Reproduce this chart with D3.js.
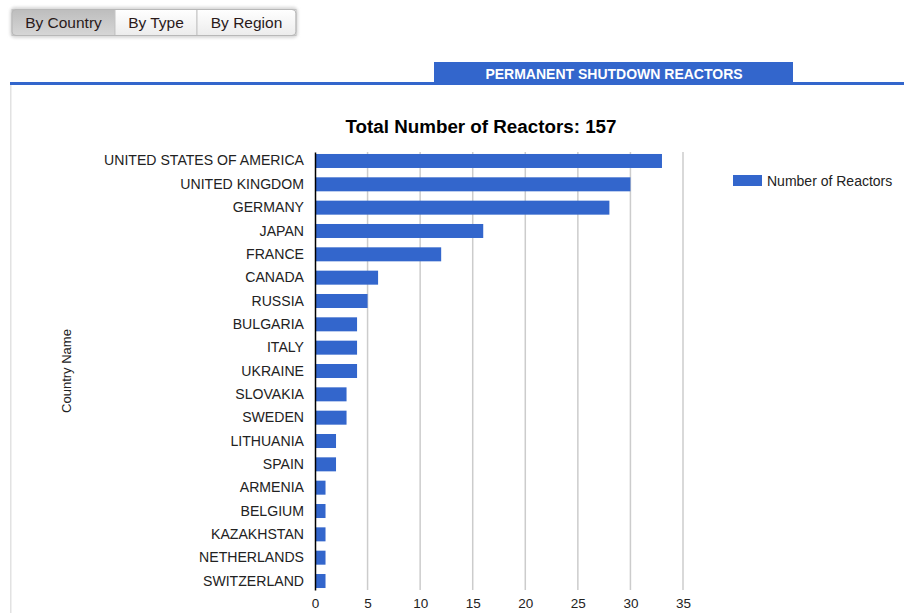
<!DOCTYPE html>
<html><head><meta charset="utf-8">
<script src="https://cdn.jsdelivr.net/npm/d3@7/dist/d3.min.js"></script>
<style>
html,body{margin:0;padding:0;background:#fff;}
svg{display:block;font-family:"Liberation Sans",Arial,sans-serif;}
</style></head>
<body>
<svg id="c" width="904" height="613"></svg>
<script>
const countries = ["UNITED STATES OF AMERICA","UNITED KINGDOM","GERMANY","JAPAN","FRANCE","CANADA","RUSSIA","BULGARIA","ITALY","UKRAINE","SLOVAKIA","SWEDEN","LITHUANIA","SPAIN","ARMENIA","BELGIUM","KAZAKHSTAN","NETHERLANDS","SWITZERLAND"];
const reactors = [33,30,28,16,12,6,5,4,4,4,3,3,2,2,1,1,1,1,1];
const xTicks = [0,5,10,15,20,25,30,35];
const buttons = ["By Country","By Type","By Region"];
const seriesName = "Number of Reactors";
const tabTitle = "PERMANENT SHUTDOWN REACTORS";
const total = d3.sum(reactors);

const svg = d3.select("#c");
const blue = "#3366cc";

// buttons
const defs = svg.append("defs");
const g1 = defs.append("linearGradient").attr("id","btnOn").attr("x1",0).attr("y1",0).attr("x2",0).attr("y2",1);
g1.append("stop").attr("offset","0").attr("stop-color","#bdbdbd");
g1.append("stop").attr("offset","1").attr("stop-color","#d6d6d6");
const g2 = defs.append("linearGradient").attr("id","btnOff").attr("x1",0).attr("y1",0).attr("x2",0).attr("y2",1);
g2.append("stop").attr("offset","0").attr("stop-color","#ffffff");
g2.append("stop").attr("offset","1").attr("stop-color","#ececec");
const f = defs.append("filter").attr("id","sh").attr("x","-10%").attr("y","-30%").attr("width","120%").attr("height","160%");
f.append("feGaussianBlur").attr("stdDeviation",1.5);

const btnX = [12,115,197,296];
svg.append("rect").attr("x",10).attr("y",7).attr("width",288).attr("height",31).attr("rx",5).attr("fill","#d8d8d8").attr("filter","url(#sh)");
const bg = svg.append("g");
buttons.forEach((b,i)=>{
  bg.append("rect").attr("x",btnX[i]).attr("y",9.5).attr("width",btnX[i+1]-btnX[i]).attr("height",26)
    .attr("rx", 0).attr("fill", i===0?"url(#btnOn)":"url(#btnOff)").attr("stroke","#c4c4c4");
  bg.append("text").attr("x",(btnX[i]+btnX[i+1])/2).attr("y",27.5).attr("text-anchor","middle")
    .attr("font-size",15.5).attr("fill","#2a1a1a").text(b);
});
svg.append("rect").attr("x",12).attr("y",9.5).attr("width",284).attr("height",26).attr("rx",4)
  .attr("fill","none").attr("stroke","#b8b8b8");

// tab header
svg.append("rect").attr("x",434).attr("y",62).attr("width",359).attr("height",21).attr("fill",blue);
svg.append("text").attr("x",614).attr("y",78.5).attr("text-anchor","middle").attr("font-size",14)
  .attr("font-weight","bold").attr("fill","#fff").text(tabTitle);
svg.append("rect").attr("x",10).attr("y",82).attr("width",894).attr("height",3).attr("fill",blue);
svg.append("rect").attr("x",10).attr("y",85).attr("width",1.5).attr("height",528).attr("fill","#e2e2e2");

// title
svg.append("text").attr("x",481).attr("y",132.5).attr("text-anchor","middle").attr("font-size",18.8)
  .attr("font-weight","bold").attr("fill","#000").text("Total Number of Reactors: " + total);

// scales
const x = d3.scaleLinear().domain([0,35]).range([315,683]);
const y = d3.scaleBand().domain(countries).range([152,590]).paddingInner(0.4).paddingOuter(0.085);

// grid
svg.append("g").selectAll("line").data(xTicks.filter(t=>t>0)).join("line")
  .attr("x1",d=>x(d)).attr("x2",d=>x(d)).attr("y1",152).attr("y2",590)
  .attr("stroke","#cccccc").attr("stroke-width",1.5);

// bars
svg.append("g").selectAll("rect").data(countries).join("rect")
  .attr("x",x(0)).attr("y",(d)=>y(d)).attr("height",y.bandwidth())
  .attr("width",(d,i)=>x(reactors[i])-x(0)).attr("fill",blue);

// y axis
const ya = svg.append("g").attr("transform",`translate(${x(0)},0)`)
  .call(d3.axisLeft(y).tickSize(0).tickPadding(11));
ya.select(".domain").attr("stroke","#000").attr("stroke-width",1.5);
ya.selectAll("text").attr("font-size",14.1).attr("fill","#222").attr("font-family","'Liberation Sans',Arial,sans-serif");

// x axis
const xa = svg.append("g").attr("transform","translate(0,590)")
  .call(d3.axisBottom(x).tickValues(xTicks).tickSize(0).tickPadding(8));
xa.select(".domain").remove();
xa.selectAll("text").attr("font-size",13.5).attr("fill","#222").attr("font-family","'Liberation Sans',Arial,sans-serif");

// y title
svg.append("text").attr("transform","translate(71,371) rotate(-90)").attr("text-anchor","middle")
  .attr("font-size",13).attr("fill","#222").text("Country Name");

// legend
svg.append("rect").attr("x",733).attr("y",175).attr("width",29).attr("height",11).attr("fill",blue);
svg.append("text").attr("x",767).attr("y",185.5).attr("font-size",14).attr("fill","#222").text(seriesName);
</script>
</body></html>
